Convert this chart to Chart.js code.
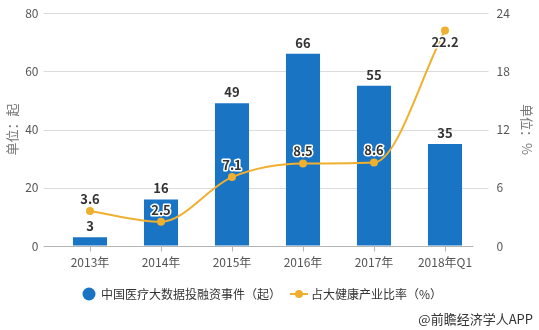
<!DOCTYPE html>
<html>
<head>
<meta charset="utf-8">
<script src="https://cdn.jsdelivr.net/npm/chart.js@4.4.0/dist/chart.umd.min.js"></script>
<style>
  html, body { margin: 0; padding: 0; background: #fff; }
  #wrap { position: relative; width: 539px; height: 330px; }
  #source {
    position: absolute; right: 6px; bottom: 2px;
    font: 13px "Noto Sans CJK SC", sans-serif; color: #333;
  }
</style>
</head>
<body>
<div id="wrap">
  <canvas id="chart" width="539" height="330"></canvas>
  <div id="source">@前瞻经济学人APP</div>
</div>
<script>
// categories and series
const years = ["2013年", "2014年", "2015年", "2016年", "2017年", "2018年Q1"];
const events = [3, 16, 49, 66, 55, 35];
const shares = [3.6, 2.5, 7.1, 8.5, 8.6, 22.2];
const leftTicks = [0, 20, 40, 60, 80];
const rightTicks = [0, 6, 12, 18, 24];

const BLUE = "#1a74c4";
const GOLD = "#f0b02f";
const FONT = "'Noto Sans CJK SC', sans-serif";

// legend markers: a dot for the bars, a line with a dot for the ratio
function dotMarker() {
  const c = document.createElement("canvas");
  c.width = 14; c.height = 14;
  const g = c.getContext("2d");
  g.fillStyle = BLUE;
  g.beginPath(); g.arc(7, 7, 6.5, 0, Math.PI * 2); g.fill();
  return c;
}
function lineMarker() {
  const c = document.createElement("canvas");
  c.width = 18; c.height = 10;
  const g = c.getContext("2d");
  g.strokeStyle = GOLD; g.lineWidth = 2;
  g.beginPath(); g.moveTo(0, 5); g.lineTo(18, 5); g.stroke();
  g.fillStyle = GOLD;
  g.beginPath(); g.arc(9, 5, 4, 0, Math.PI * 2); g.fill();
  return c;
}
const markers = [dotMarker(), lineMarker()];

// horizontal grid lines run a little past the plot area, x tick marks under each bar
const gridPlugin = {
  id: "grid",
  afterLayout(chart) {
    // legend sits a bit left of the canvas centre
    chart.legend.left -= 7;
    chart.legend.right -= 7;
  },
  beforeDatasetsDraw(chart) {
    const { ctx, chartArea, scales } = chart;
    ctx.save();
    ctx.lineWidth = 1;
    leftTicks.forEach(v => {
      const y = Math.round(scales.y.getPixelForValue(v)) + 0.5;
      ctx.strokeStyle = v === 0 ? "#b5b5b5" : "#dcdcdc";
      ctx.beginPath();
      ctx.moveTo(chartArea.left - 11, y);
      ctx.lineTo(v === 0 ? chartArea.right - 7 : chartArea.right + 8, y);
      ctx.stroke();
    });
    const base = Math.round(scales.y.getPixelForValue(0)) + 0.5;
    ctx.strokeStyle = "#b5b5b5";
    years.forEach((_, i) => {
      const x = Math.round(scales.x.getPixelForValue(i)) + 0.5;
      ctx.beginPath(); ctx.moveTo(x, base); ctx.lineTo(x, base + 5); ctx.stroke();
    });
    ctx.restore();
  }
};

// value labels above bars and next to the line points
const labelPlugin = {
  id: "valueLabels",
  afterDatasetsDraw(chart) {
    const { ctx } = chart;
    ctx.save();
    ctx.font = "bold 13px " + FONT;
    ctx.textAlign = "center";
    ctx.textBaseline = "middle";

    chart.getDatasetMeta(0).data.forEach((el, i) => {
      ctx.fillStyle = "#333";
      ctx.fillText(String(events[i]), el.x, el.y - 11);
    });

    // ratio labels: dark text with a white halo
    ctx.lineJoin = "round";
    chart.getDatasetMeta(1).data.forEach((el, i) => {
      const below = i === shares.length - 1;
      const y = below ? el.y + 12 : el.y - 12;
      const txt = shares[i].toFixed(1);
      ctx.strokeStyle = "#fff";
      ctx.lineWidth = 3;
      ctx.strokeText(txt, el.x, y);
      ctx.fillStyle = "#333";
      ctx.fillText(txt, el.x, y);
    });
    ctx.restore();
  }
};

// invisible tick marks keep the value labels clear of the plot without padding the top
const hiddenGrid = { color: "transparent", drawOnChartArea: false, drawTicks: true, tickLength: 14 };

new Chart(document.getElementById("chart"), {
  data: {
    labels: years,
    datasets: [
      {
        type: "bar",
        label: "中国医疗大数据投融资事件（起）",
        data: events,
        backgroundColor: BLUE,
        yAxisID: "y",
        barPercentage: 0.48,
        categoryPercentage: 1,
        order: 1
      },
      {
        type: "line",
        label: "占大健康产业比率（%）",
        data: shares,
        borderColor: GOLD,
        backgroundColor: GOLD,
        borderWidth: 2,
        pointRadius: 4,
        pointBackgroundColor: GOLD,
        pointBorderWidth: 0,
        cubicInterpolationMode: "monotone",
        yAxisID: "y1",
        order: 0
      }
    ]
  },
  options: {
    responsive: false,
    animation: false,
    layout: { padding: { top: 13, bottom: 20, left: 0, right: 0 } },
    scales: {
      x: {
        grid: { display: false, drawTicks: false },
        border: { display: false },
        ticks: { color: "#555", font: { family: FONT, size: 12 }, padding: 9 },
        afterFit(scale) { scale.height = 30; }
      },
      y: {
        position: "left",
        min: 0, max: 80,
        afterBuildTicks(scale) { scale.ticks = leftTicks.map(v => ({ value: v })); },
        grid: hiddenGrid,
        border: { display: false },
        ticks: { color: "#555", font: { family: FONT, size: 12 }, padding: 2 },
        title: { display: true, text: "单位：起", color: "#777", font: { family: FONT, size: 13 } },
        afterFit(scale) { scale.width = 54.5; }
      },
      y1: {
        position: "right",
        min: 0, max: 24,
        afterBuildTicks(scale) { scale.ticks = rightTicks.map(v => ({ value: v })); },
        grid: hiddenGrid,
        border: { display: false },
        ticks: { color: "#555", font: { family: FONT, size: 12 }, padding: 2 },
        title: { display: true, text: "单位：%", color: "#777", font: { family: FONT, size: 13 } },
        afterFit(scale) { scale.width = 58.5; }
      }
    },
    plugins: {
      tooltip: { enabled: false },
      legend: {
        position: "bottom",
        labels: {
          usePointStyle: true,
          color: "#333",
          font: { family: FONT, size: 12 },
          padding: 12,
          generateLabels(chart) {
            return chart.data.datasets.map((ds, i) => ({
              text: ds.label,
              pointStyle: markers[i],
              fontColor: "#333",
              datasetIndex: i,
              hidden: false,
              lineWidth: 0
            }));
          }
        }
      }
    }
  },
  plugins: [gridPlugin, labelPlugin]
});
</script>
</body>
</html>
